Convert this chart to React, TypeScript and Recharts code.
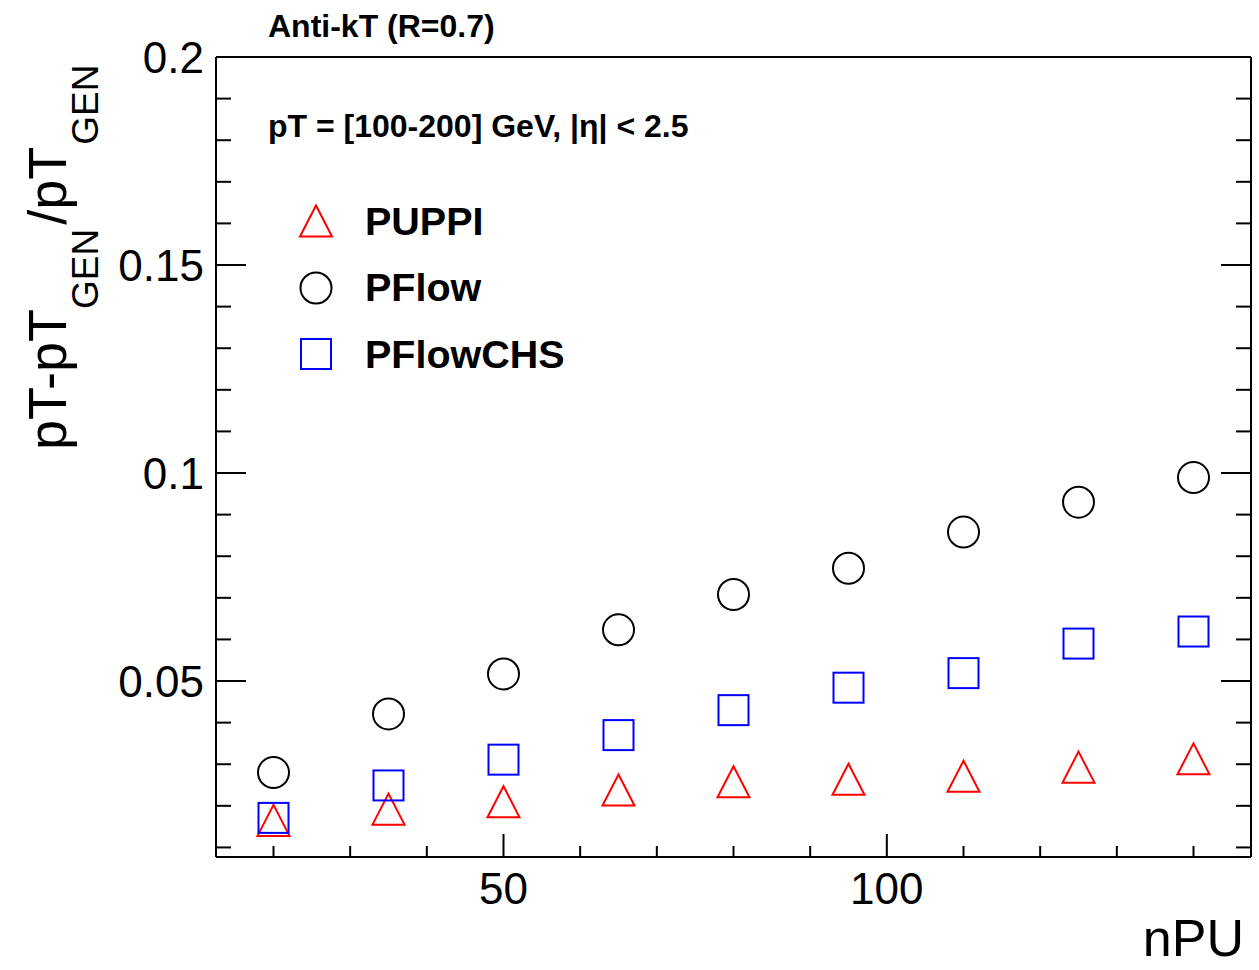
import { ScatterChart, Scatter, XAxis, YAxis, Legend } from 'recharts';

const FONT = '"Liberation Sans", Arial, Helvetica, sans-serif';

// values
const nPU = [20, 35, 50, 65, 80, 95, 110, 125, 140];
const puppi = [0.0165, 0.0192, 0.021, 0.0238, 0.0258, 0.0264, 0.0271, 0.0293, 0.0313];
const pflow = [0.028, 0.0421, 0.0517, 0.0623, 0.0708, 0.0771, 0.0858, 0.093, 0.0989];
const pflowCHS = [0.0171, 0.0249, 0.0311, 0.037, 0.043, 0.0484, 0.0519, 0.059, 0.0619];

const xTicks = [20, 30, 40, 50, 60, 70, 80, 90, 100, 110, 120, 130, 140];
const xMajorTicks = [50, 100];
const yTicks = [
  0.01, 0.02, 0.03, 0.04, 0.05, 0.06, 0.07, 0.08, 0.09, 0.1,
  0.11, 0.12, 0.13, 0.14, 0.15, 0.16, 0.17, 0.18, 0.19, 0.2,
];
const yMajorTicks = [0.05, 0.1, 0.15, 0.2];

const X_DOMAIN: [number, number] = [12.5, 147.5];
const Y_DOMAIN: [number, number] = [0.0077, 0.2];

const toPoints = (ys: number[]) => nPU.map((x, i) => ({ x, y: ys[i] }));

const RED = '#ff0000';
const BLUE = '#0000ff';
const BLACK = '#000000';

// open ROOT-style markers
const TriangleMark = ({ cx, cy }: any) => (
  <polygon
    points={`${cx - 16},${cy + 15.5} ${cx + 16},${cy + 15.5} ${cx},${cy - 15.5}`}
    fill="none" stroke={RED} strokeWidth={2}
  />
);
const CircleMark = ({ cx, cy }: any) => (
  <circle cx={cx} cy={cy} r={15.5} fill="none" stroke={BLACK} strokeWidth={2} />
);
const SquareMark = ({ cx, cy }: any) => (
  <rect x={cx - 15} y={cy - 15} width={30} height={30} fill="none" stroke={BLUE} strokeWidth={2} />
);

// ticks drawn inward, longer on major values
const BottomTick = ({ x, y, payload }: any) => {
  const major = xMajorTicks.includes(payload.value);
  return (
    <g>
      <line x1={x} x2={x} y1={y} y2={y - (major ? 23 : 11)} stroke={BLACK} strokeWidth={2} />
      {major && (
        <text x={x} y={y + 47} textAnchor="middle" fontSize={44} fontFamily={FONT} fill={BLACK}>
          {payload.value}
        </text>
      )}
    </g>
  );
};
const TopTick = ({ x, y, payload }: any) => {
  const major = xMajorTicks.includes(payload.value);
  return <line x1={x} x2={x} y1={y} y2={y + (major ? 23 : 11)} stroke={BLACK} strokeWidth={2} />;
};
const LeftTick = ({ x, y, payload }: any) => {
  const major = yMajorTicks.includes(payload.value);
  return (
    <g>
      <line x1={x} x2={x + (major ? 30 : 15)} y1={y} y2={y} stroke={BLACK} strokeWidth={2} />
      {major && (
        <text x={x - 12} y={y + 16} textAnchor="end" fontSize={44} fontFamily={FONT} fill={BLACK}>
          {String(payload.value)}
        </text>
      )}
    </g>
  );
};
const RightTick = ({ x, y, payload }: any) => {
  const major = yMajorTicks.includes(payload.value);
  return <line x1={x} x2={x - (major ? 30 : 15)} y1={y} y2={y} stroke={BLACK} strokeWidth={2} />;
};

const YTitle = () => (
  <text transform="translate(66,450) rotate(-90)" fontSize={54} fontFamily={FONT} fill={BLACK}>
    <tspan>pT-pT</tspan>
    <tspan fontSize={37} dy={32}>GEN</tspan>
    <tspan dy={-32} dx={4}>/pT</tspan>
    <tspan fontSize={37} dy={32} dx={2}>GEN</tspan>
  </text>
);

const XTitle = () => (
  <text x={1244} y={956} textAnchor="end" fontSize={52} fontFamily={FONT} fill={BLACK}>
    nPU
  </text>
);

const legendItems = [
  { name: 'PUPPI', Mark: TriangleMark },
  { name: 'PFlow', Mark: CircleMark },
  { name: 'PFlowCHS', Mark: SquareMark },
];

const renderLegend = () => (
  <div style={{ fontFamily: FONT, fontWeight: 'bold', fontSize: 39.5, color: BLACK }}>
    {legendItems.map(({ name, Mark }) => (
      <div key={name} style={{ display: 'flex', alignItems: 'center', height: 66.5 }}>
        <svg width={40} height={40} style={{ overflow: 'visible' }}>
          <Mark cx={20} cy={20} />
        </svg>
        <span style={{ marginLeft: 29, lineHeight: 1 }}>{name}</span>
      </div>
    ))}
  </div>
);

const axisLine = { stroke: BLACK, strokeWidth: 2 };

export default function App() {
  return (
    <div style={{ position: 'absolute', left: 0, top: 0, width: 1259, height: 970, background: '#fff' }}>
      <ScatterChart width={1259} height={970} margin={{ top: 47, right: 3, bottom: 53, left: 116 }}>
        <XAxis
          dataKey="x" type="number" domain={X_DOMAIN} allowDataOverflow ticks={xTicks} interval={0}
          height={60} tickLine={false} tickSize={0} tickMargin={0} axisLine={axisLine}
          tick={<BottomTick />} label={<XTitle />}
        />
        <XAxis
          xAxisId="top" orientation="top" type="number" domain={X_DOMAIN} allowDataOverflow ticks={xTicks}
          interval={0} height={10} tickLine={false} tickSize={0} tickMargin={0} axisLine={axisLine}
          tick={<TopTick />}
        />
        <YAxis
          dataKey="y" type="number" domain={Y_DOMAIN} allowDataOverflow ticks={yTicks} interval={0}
          width={100} tickLine={false} tickSize={0} tickMargin={0} axisLine={axisLine}
          tick={<LeftTick />} label={<YTitle />}
        />
        <YAxis
          yAxisId="right" orientation="right" type="number" domain={Y_DOMAIN} allowDataOverflow ticks={yTicks}
          interval={0} width={5} tickLine={false} tickSize={0} tickMargin={0} axisLine={axisLine}
          tick={<RightTick />}
        />
        <Legend
          layout="vertical" align="center" verticalAlign="middle"
          wrapperStyle={{ left: 296, top: 188, width: 420, height: 200 }}
          content={renderLegend}
        />
        <Scatter name="PUPPI" data={toPoints(puppi)} shape={<TriangleMark />} isAnimationActive={false} />
        <Scatter name="PFlow" data={toPoints(pflow)} shape={<CircleMark />} isAnimationActive={false} />
        <Scatter name="PFlowCHS" data={toPoints(pflowCHS)} shape={<SquareMark />} isAnimationActive={false} />
      </ScatterChart>
      <svg
        width={1259} height={970}
        style={{ position: 'absolute', left: 0, top: 0, pointerEvents: 'none' }}
      >
        <text x={268} y={37} fontSize={32} fontWeight="bold" fontFamily={FONT} fill={BLACK}>
          Anti-kT (R=0.7)
        </text>
        <text x={268} y={137} fontSize={32} fontWeight="bold" fontFamily={FONT} fill={BLACK}>
          pT = [100-200] GeV, |η| &lt; 2.5
        </text>
      </svg>
    </div>
  );
}
